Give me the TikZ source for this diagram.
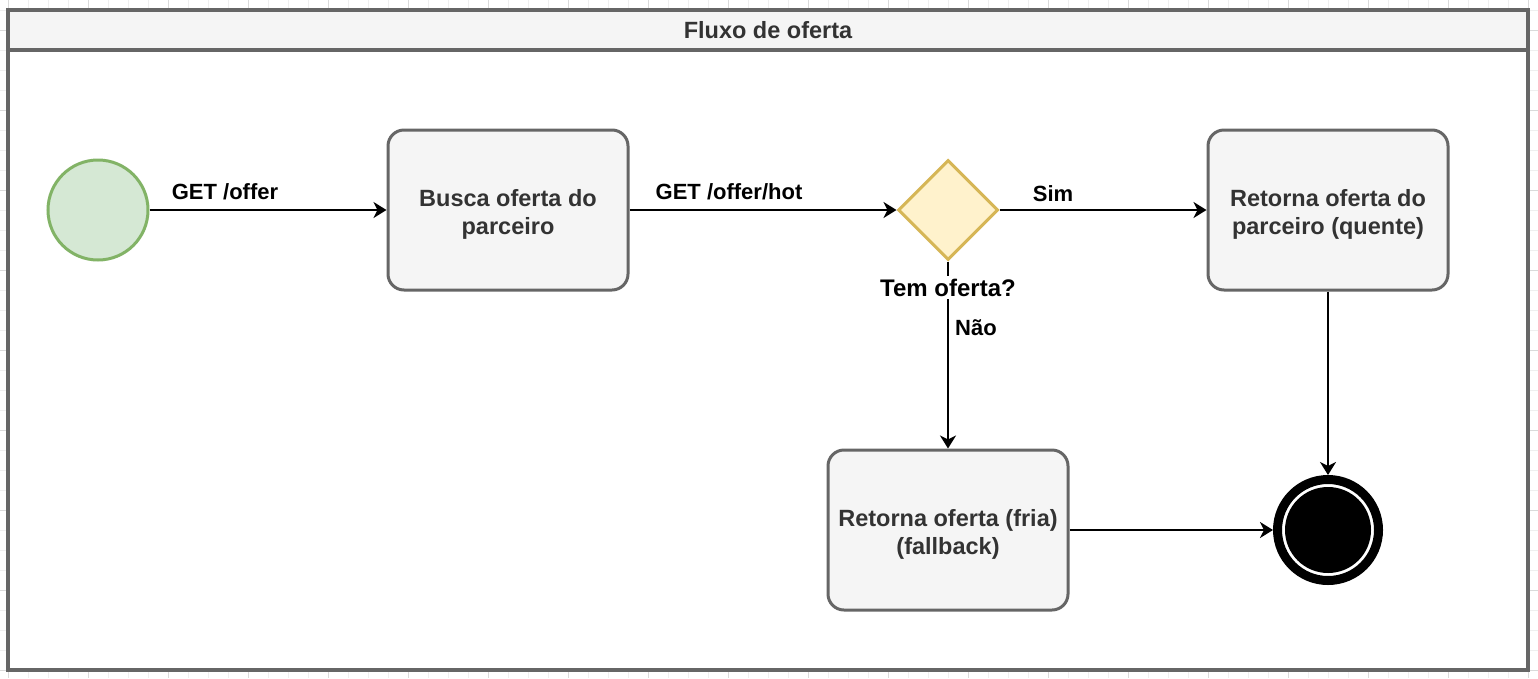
\documentclass[tikz,border=0pt]{standalone}
\usepackage{fontspec}
\setmainfont{Liberation Sans}
\usetikzlibrary{arrows.meta,shapes.geometric}
\definecolor{gridminor}{HTML}{EFEFEF}
\definecolor{gridmajor}{HTML}{DADADA}
\definecolor{framegray}{HTML}{666666}
\definecolor{boxfill}{HTML}{F5F5F5}
\definecolor{boxtext}{HTML}{333333}
\definecolor{startfill}{HTML}{D5E8D4}
\definecolor{startdraw}{HTML}{82B366}
\definecolor{decfill}{HTML}{FFF2CC}
\definecolor{decdraw}{HTML}{D6B656}
\tikzset{
  boxfont/.style={font=\fontsize{23.5}{28.5}\selectfont\bfseries},
  lblfont/.style={font=\fontsize{22}{26}\selectfont\bfseries},
  decfont/.style={font=\fontsize{24}{28}\selectfont\bfseries},
  stepbox/.style={rectangle, rounded corners=16pt, draw=framegray, fill=boxfill,
    line width=3pt, minimum width=240pt, minimum height=160pt, inner sep=0pt},
  boxlbl/.style={boxfont, align=center, text=boxtext, inner sep=0pt, yshift=-4.5pt},
  startst/.style={circle, draw=startdraw, fill=startfill, line width=3pt,
    minimum size=100pt, inner sep=0pt},
  decision/.style={diamond, aspect=1, draw=decdraw, fill=decfill, line width=3pt,
    minimum width=100pt, minimum height=100pt, inner sep=0pt},
  endst/.style={circle, draw=black, fill=white, line width=9pt, minimum size=101pt,
    inner sep=0pt, path picture={\fill[black] (path picture bounding box.center) circle (43pt);}},
  edge/.style={draw=black, line width=2pt, -{Stealth[length=13pt,width=16pt,inset=4pt]}},
  lbl/.style={lblfont, text=black, inner sep=1pt},
  container/.style={rectangle, draw=framegray, fill=white, line width=3.3pt, inner sep=0pt},
  header/.style={rectangle, draw=framegray, fill=boxfill, line width=3.3pt, inner sep=0pt,
    text=boxtext, boxfont},
}
\begin{document}
\begin{tikzpicture}[x=1pt,y=-1pt]
\useasboundingbox (0,0) rectangle (1538,678);
% background grid
\foreach \gx in {8,28,...,1538} {\draw[gridminor, line width=1pt] (\gx,0) -- (\gx,678);}
\foreach \gy in {10,30,...,678} {\draw[gridminor, line width=1pt] (0,\gy) -- (1538,\gy);}
\foreach \gx in {8,88,...,1538} {\draw[gridmajor, line width=1pt] (\gx,0) -- (\gx,678);}
\foreach \gy in {30,110,...,678} {\draw[gridmajor, line width=1pt] (0,\gy) -- (1538,\gy);}
% container
\node[container, minimum width=1520pt, minimum height=660pt] (pool) at (768,340) {};
\node[header, minimum width=1520pt, minimum height=40pt] (head) at (768,30) {Fluxo de oferta};
% nodes
\node[startst] (start) at (98,210) {};
\node[stepbox, label={[boxlbl]center:{Busca oferta do\\parceiro}}] (busca) at (508,210) {};
\node[decision] (dec) at (948,210) {};
\node[stepbox, label={[boxlbl]center:{Retorna oferta do\\parceiro (quente)}}] (quente) at (1328,210) {};
\node[stepbox, label={[boxlbl]center:{Retorna oferta (fria)\\(fallback)}}] (fria) at (948,530) {};
\node[endst] (fim) at (1328,530) {};
% edges
\draw[edge] (start) -- (busca);
\draw[edge] (busca) -- (dec);
\draw[edge] (dec) -- (quente);
\draw[edge] (dec) -- (fria);
\draw[edge] (quente) -- (fim);
\draw[edge] (fria) -- (fim);
% labels
\node[lbl, anchor=base] (l1) at (225,199) {GET /offer};
\node[lbl, anchor=base] (l2) at (729,199) {GET /offer/hot};
\node[lbl, anchor=base] (l3) at (1053,201) {Sim};
\node[decfont, text=black, anchor=base, fill=white, inner sep=3pt] (l4) at (948,296) {Tem oferta?};
\node[lbl, anchor=base west] (l5) at (954,335) {Não};
\end{tikzpicture}
\end{document}
